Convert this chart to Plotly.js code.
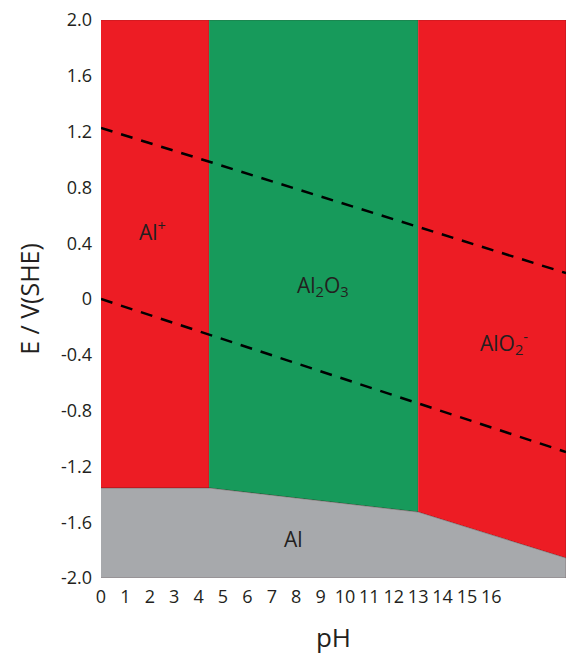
<!DOCTYPE html>
<html>
<head>
<meta charset="utf-8">
<script src="https://cdn.plot.ly/plotly-3.0.1.min.js"></script>
<style>
html,body{margin:0;padding:0;background:#fff;}
#chart{width:566px;height:655px;}
</style>
</head>
<body>
<div id="chart"></div>
<script>
// pH limits and region boundaries
const phMin = 0;
const phMax = 19.06;
const phAlIon = 4.43;     // Al+ / Al2O3 boundary
const phAlO2 = 13.0;      // Al2O3 / AlO2- boundary
const eMin = -2.0;
const eMax = 2.0;

// Al lower boundary (E at pH 0, phAlIon, phAlO2, phMax)
const alBoundaryPh = [0, 4.43, 13.0, 19.06];
const alBoundaryE = [-1.355, -1.355, -1.527, -1.857];

// water stability lines
const o2LinePh = [0, 19.06];
const o2LineE = [1.226, 0.186];
const h2LinePh = [0, 19.06];
const h2LineE = [0.0, -1.097];

// tick labels
const xTickVals = [0,1,2,3,4,5,6,7,8,9,10,11,12,13,14,15,16];
const xTickText = xTickVals.map(String);
const yTickVals = [-2.0,-1.6,-1.2,-0.8,-0.4,0,0.4,0.8,1.2,1.6,2.0];
const yTickText = ["-2.0","-1.6","-1.2","-0.8","-0.4","0","0.4","0.8","1.2","1.6","2.0"];

// region labels
const regionNames = ["Al<sup>+</sup>", "Al<sub>2</sub>O<sub>3</sub>", "AlO<sub>2</sub><sup>-</sup>", "Al"];
const regionPh = [2.1, 9.1, 16.5, 7.9];
const regionE = [0.49, 0.09, -0.31, -1.72];

const RED = "#ED1C24";
const GREEN = "#179A5B";
const GRAY = "#A7A9AC";
const FONT = "Open Sans, sans-serif";
const TXT = "#231F20";

const edge = {width: 0.6, color: "rgba(60,20,20,0.45)"};

const traces = [
  { // Al+ region
    x: [phMin, phAlIon, phAlIon, phMin],
    y: [eMax, eMax, alBoundaryE[1], alBoundaryE[0]],
    type: "scatter", mode: "lines", fill: "toself", fillcolor: RED,
    line: edge, hoverinfo: "skip", showlegend: false
  },
  { // Al2O3 region
    x: [phAlIon, phAlO2, phAlO2, phAlIon],
    y: [eMax, eMax, alBoundaryE[2], alBoundaryE[1]],
    type: "scatter", mode: "lines", fill: "toself", fillcolor: GREEN,
    line: edge, hoverinfo: "skip", showlegend: false
  },
  { // AlO2- region
    x: [phAlO2, phMax, phMax, phAlO2],
    y: [eMax, eMax, alBoundaryE[3], alBoundaryE[2]],
    type: "scatter", mode: "lines", fill: "toself", fillcolor: RED,
    line: edge, hoverinfo: "skip", showlegend: false
  },
  { // Al region
    x: alBoundaryPh.concat([phMax, phMin]),
    y: alBoundaryE.concat([eMin, eMin]),
    type: "scatter", mode: "lines", fill: "toself", fillcolor: GRAY,
    line: edge, hoverinfo: "skip", showlegend: false
  },
  { // O2 line
    x: o2LinePh, y: o2LineE, type: "scatter", mode: "lines",
    line: {color: "#000", width: 2.5, dash: "12px,9px"},
    hoverinfo: "skip", showlegend: false
  },
  { // H2 line
    x: h2LinePh, y: h2LineE, type: "scatter", mode: "lines",
    line: {color: "#000", width: 2.5, dash: "12px,9px"},
    hoverinfo: "skip", showlegend: false
  }
];

const annotations = regionNames.map((t, i) => ({
  x: regionPh[i], y: regionE[i], xref: "x", yref: "y",
  text: t, showarrow: false,
  font: {family: FONT, size: 21, color: TXT}
}));

const layout = {
  width: 566, height: 655,
  margin: {l: 101, r: 0, t: 20, b: 77, pad: 0},
  paper_bgcolor: "#fff", plot_bgcolor: "#fff",
  showlegend: false,
  font: {family: FONT, color: TXT, size: 18},
  xaxis: {
    range: [phMin, phMax], showgrid: false, zeroline: false,
    showline: false, ticks: "", tickvals: xTickVals, ticktext: xTickText,
    tickfont: {family: FONT, size: 18, color: TXT},
    ticklabelstandoff: 6,
    title: {text: "pH", font: {family: FONT, size: 26, color: TXT}, standoff: 24},
    automargin: false, fixedrange: true
  },
  yaxis: {
    range: [eMin, eMax], showgrid: false, zeroline: false,
    showline: false, ticks: "", tickvals: yTickVals, ticktext: yTickText,
    tickfont: {family: FONT, size: 18, color: TXT},
    ticklabelstandoff: 8,
    title: {text: "E / V(SHE)", font: {family: FONT, size: 25, color: TXT}, standoff: 14},
    automargin: false, fixedrange: true
  },
  annotations: annotations
};

Plotly.newPlot("chart", traces, layout, {displayModeBar: false, staticPlot: true});
</script>
</body>
</html>
